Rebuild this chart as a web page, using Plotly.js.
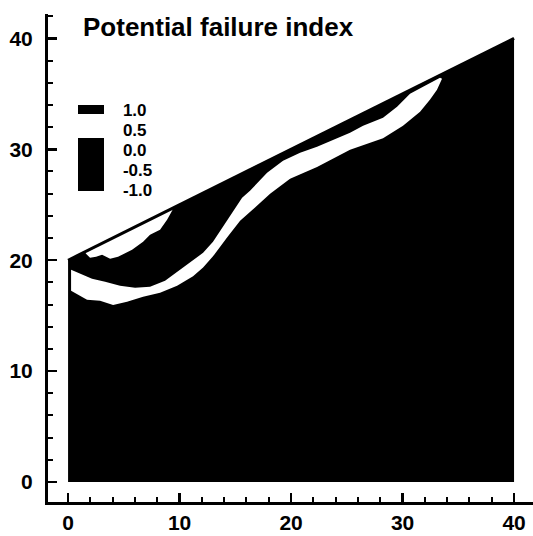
<!DOCTYPE html>
<html>
<head>
<meta charset="utf-8">
<script src="https://cdn.plot.ly/plotly-3.0.1.min.js"></script>
<style>html,body{margin:0;padding:0;background:#fff;}#chart{width:533px;height:536px;}</style>
</head>
<body>
<div id="chart"></div>
<script>
// Slope domain (ground surface from (0,20) to (40,40))
const slopeX = [0, 40, 40, 0];
const slopeY = [0, 0, 40, 20];
const groundX = [0, 40];
const groundY = [20, 40];

// White band (potential failure zone) - top edge left->right, then bottom edge right->left
const bandTopX = [0.27, 1.08, 2.15, 3.32, 4.66, 6.01, 7.35, 8.70, 9.78, 11.21, 12.11, 13.00, 13.90, 14.80, 15.61, 16.32, 17.22, 17.85, 19.28, 20.81, 22.33, 25.29, 26.46, 28.25, 29.51, 30.67, 31.84, 33.36];
const bandTopY = [19.13, 18.77, 18.32, 18.05, 17.69, 17.51, 17.60, 18.14, 18.95, 19.95, 20.67, 21.66, 23.01, 24.46, 25.63, 26.26, 27.17, 27.89, 28.97, 29.69, 30.23, 31.50, 32.13, 32.85, 33.84, 35.02, 35.65, 36.46];
const bandBotX = [33.54, 33.09, 32.47, 31.57, 30.04, 28.25, 25.29, 22.33, 19.91, 18.12, 16.77, 15.43, 14.26, 13.00, 12.11, 11.21, 9.78, 8.25, 6.73, 5.29, 4.04, 2.87, 1.70, 0.27];
const bandBotY = [36.37, 35.38, 34.48, 33.39, 32.13, 31.00, 29.95, 28.40, 27.35, 26.00, 24.75, 23.55, 22.05, 20.35, 19.35, 18.55, 17.69, 17.06, 16.70, 16.25, 15.97, 16.34, 16.43, 17.24];

// White wedge just under the ground surface (upper left)
const wedgeX = [1.5, 9.45, 9.33, 8.88, 8.25, 7.35, 6.73, 5.74, 4.48, 3.77, 3.05, 2.51, 1.97, 1.61];
const wedgeY = [20.75, 24.72, 24.46, 23.65, 22.74, 22.29, 21.66, 20.94, 20.31, 20.13, 20.49, 20.31, 20.22, 20.58];

// Legend levels
const legendTicks = [1.0, 0.5, 0.0, -0.5, -1.0];
const legendLabels = ['1.0', '0.5', '0.0', '-0.5', '-1.0'];

const FONT = 'Liberation Sans, Arial, Helvetica, sans-serif';

const traces = [
  {x: slopeX, y: slopeY, mode: 'lines', fill: 'toself', fillcolor: '#000', line: {width: 0, color: '#000'}, hoverinfo: 'skip', showlegend: false},
  {x: bandTopX.concat(bandBotX), y: bandTopY.concat(bandBotY), mode: 'lines', fill: 'toself', fillcolor: '#fff', line: {width: 0, color: '#fff'}, hoverinfo: 'skip', showlegend: false},
  {x: wedgeX, y: wedgeY, mode: 'lines', fill: 'toself', fillcolor: '#fff', line: {width: 0, color: '#fff'}, hoverinfo: 'skip', showlegend: false},
  {x: groundX, y: groundY, mode: 'lines', line: {width: 3, color: '#000'}, hoverinfo: 'skip', showlegend: false},
  {x: [20], y: [10], mode: 'markers', hoverinfo: 'skip', showlegend: false,
   marker: {size: 1, opacity: 0, color: [0], cmin: -1.02, cmax: 1.14, showscale: true,
     colorscale: [[0, '#000'], [0.6185, '#000'], [0.6185, '#fff'], [0.8935, '#fff'], [0.8935, '#000'], [1, '#000']],
     colorbar: {x: 0.0619, xanchor: 'left', y: 0.7257, yanchor: 'middle', len: 86, lenmode: 'pixels', thickness: 26,
       xpad: 0, ypad: 0, outlinewidth: 0, ticks: 'outside', ticklen: 16, tickcolor: 'rgba(0,0,0,0)',
       tickvals: legendTicks, ticktext: legendLabels,
       tickfont: {family: FONT, size: 17, weight: 'bold', color: '#000'}}}}
];

const axisCommon = {
  showline: true, linewidth: 3, linecolor: '#000', mirror: false,
  ticks: 'inside', ticklen: 9, tickwidth: 2.5, tickcolor: '#000',
  tickvals: [0, 10, 20, 30, 40],
  minor: {dtick: 2, tick0: 0, ticks: 'inside', ticklen: 5, tickwidth: 2, tickcolor: '#000', showgrid: false},
  showgrid: false, zeroline: false,
  tickfont: {family: FONT, size: 21, weight: 'bold', color: '#000'}
};

const layout = {
  width: 533, height: 536,
  margin: {l: 48, r: 0, t: 14, b: 34, pad: 0},
  paper_bgcolor: '#fff', plot_bgcolor: '#fff',
  title: {text: 'Potential failure index', x: 83 / 533, xanchor: 'left', xref: 'container', y: 1 - 27 / 536, yref: 'container', yanchor: 'middle',
    font: {family: FONT, size: 26, weight: 'bold', color: '#000'}},
  xaxis: Object.assign({}, axisCommon, {range: [-1.8, 41.7], ticklabelstandoff: 0}),
  yaxis: Object.assign({}, axisCommon, {range: [-1.8, 42.2], ticklabelstandoff: 8}),
  showlegend: false
};

Plotly.newPlot('chart', traces, layout, {staticPlot: true, displayModeBar: false});
</script>
</body>
</html>
